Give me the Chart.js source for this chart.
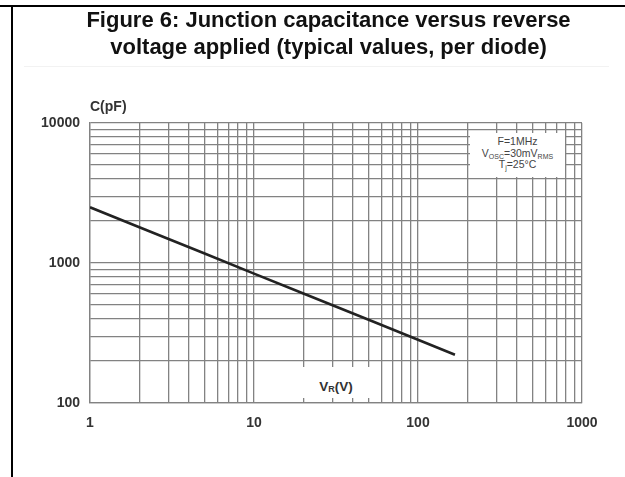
<!DOCTYPE html>
<html>
<head>
<meta charset="utf-8">
<script src="https://cdn.jsdelivr.net/npm/chart.js@4.4.1/dist/chart.umd.min.js"></script>
<style>
  html, body { margin: 0; padding: 0; background: #fff; }
  #page { position: relative; width: 625px; height: 477px; overflow: hidden; font-family: "Liberation Sans", Arial, sans-serif; }
  #frameTop { position: absolute; left: 0; top: 5px; width: 625px; height: 2px; background: #000; }
  #frameLeft { position: absolute; left: 11px; top: 5px; width: 2px; height: 472px; background: #000; }
  #rule { position: absolute; left: 24px; top: 66px; width: 585px; height: 1px; background: #f2f2f2; }
  #title { position: absolute; left: 22px; top: 6px; width: 613px; text-align: center; font-weight: bold; font-size: 22px; line-height: 27px; color: #111; }
  #chart { position: absolute; left: 0; top: 0; }
  .note { position: absolute; background: #fff; text-align: center; }
  #cond { left: 470px; top: 133px; width: 95px; height: 44px; font-size: 10.5px; line-height: 11.5px; color: #444; padding-top: 3px; box-sizing: border-box; }
  #cond sub { font-size: 7px; vertical-align: -2px; line-height: 0; }
  #vr { left: 300px; top: 367px; width: 72px; height: 31px; font-size: 13.5px; font-weight: bold; color: #333; line-height: 31px; }
  #vr span { position: relative; top: 4px; }
  #vr sub { font-size: 9px; vertical-align: -1px; line-height: 0; }
  #cunit { position: absolute; left: 90px; top: 98px; font-size: 14px; line-height: 16px; font-weight: bold; color: #333; }
</style>
</head>
<body>
<div id="page">
  <canvas id="chart" width="625" height="477"></canvas>
  <div id="frameTop"></div>
  <div id="frameLeft"></div>
  <div id="rule"></div>
  <div id="title">Figure 6: Junction capacitance versus reverse<br>voltage applied (typical values, per diode)</div>
  <div id="cunit">C(pF)</div>
  <div class="note" id="cond">F=1MHz<br>V<sub>OSC</sub>=30mV<sub>RMS</sub><br>T<sub>j</sub>=25°C</div>
  <div class="note" id="vr"><span>V<sub>R</sub>(V)</span></div>
</div>
<script>
// Reverse voltage (V) and junction capacitance (pF) along the typical curve
const reverseVoltage = [1, 2, 5, 10, 20, 50, 100, 168];
const capacitance = [2500, 1800, 1170, 840, 605, 393, 283, 221];

// Decade labels printed on each axis
const xTickLabels = ['1', '10', '100', '1000'];
const yTickLabels = ['100', '1000', '10000'];

// Log grid: 1..9 in each decade, plus the closing decade
function logGrid(from, to) {
  const vals = [];
  for (let d = from; d < to; d *= 10) {
    for (let m = 1; m <= 9; m++) vals.push(m * d);
  }
  vals.push(to);
  return vals;
}
const xGrid = logGrid(1, 1000);
const yGrid = logGrid(100, 10000);

const gridColor = '#828282';
const tickFont = { family: '"Liberation Sans", Arial, sans-serif', weight: 'bold', size: 14 };

new Chart(document.getElementById('chart'), {
  type: 'line',
  data: {
    datasets: [{
      data: reverseVoltage.map((v, i) => ({ x: v, y: capacitance[i] })),
      borderColor: '#222',
      borderWidth: 2.6,
      pointRadius: 0,
      tension: 0,
      fill: false
    }]
  },
  options: {
    responsive: false,
    animation: false,
    devicePixelRatio: 1,
    layout: { padding: { top: 123, right: 43, left: 0, bottom: 0 } },
    plugins: { legend: { display: false }, tooltip: { enabled: false } },
    scales: {
      x: {
        type: 'logarithmic',
        min: 1,
        max: 1000,
        afterBuildTicks: s => { s.ticks = xGrid.map(v => ({ value: v })); },
        afterFit: s => { s.height = 74; },
        grid: { color: gridColor, lineWidth: 1.3, drawTicks: false },
        border: { color: gridColor, width: 1.3 },
        ticks: {
          autoSkip: false,
          maxRotation: 0,
          padding: 12,
          color: '#333',
          font: tickFont,
          callback: v => (xTickLabels.includes(String(v)) ? String(v) : '')
        }
      },
      y: {
        type: 'logarithmic',
        min: 100,
        max: 10000,
        afterBuildTicks: s => { s.ticks = yGrid.map(v => ({ value: v })); },
        afterFit: s => { s.width = 90; },
        grid: { color: gridColor, lineWidth: 1.3, drawTicks: false },
        border: { color: gridColor, width: 1.3 },
        ticks: {
          autoSkip: false,
          padding: 10,
          color: '#333',
          font: tickFont,
          callback: v => (yTickLabels.includes(String(v)) ? String(v) : '')
        }
      }
    }
  }
});
</script>
</body>
</html>
